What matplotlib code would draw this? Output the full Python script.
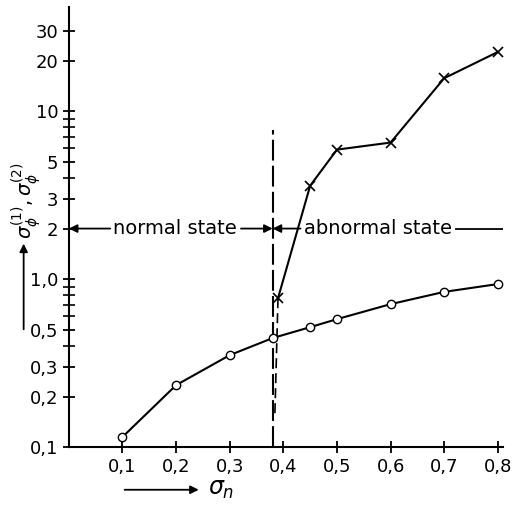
import matplotlib
matplotlib.use('Agg')
import matplotlib.pyplot as plt
from matplotlib.ticker import FixedLocator, NullFormatter

# sigma_phi^(2) (crosses) and sigma_phi^(1) (circles) vs sigma_n
x_cross = [0.39, 0.45, 0.5, 0.6, 0.7, 0.8]
y_cross = [0.77, 3.6, 5.9, 6.5, 15.7, 22.5]
x_circ = [0.1, 0.2, 0.3, 0.38, 0.45, 0.5, 0.6, 0.7, 0.8]
y_circ = [0.115, 0.234, 0.353, 0.446, 0.518, 0.578, 0.71, 0.84, 0.935]

x_ticks = [0.1, 0.2, 0.3, 0.4, 0.5, 0.6, 0.7, 0.8]
y_major = [0.1, 0.2, 0.3, 0.5, 1.0, 2, 3, 5, 10, 20, 30]
y_major_labels = ['0,1', '0,2', '0,3', '0,5', '1,0', '2', '3', '5', '10', '20', '30']
y_minor = [0.4, 0.6, 0.7, 0.8, 0.9, 4, 6, 7, 8, 9]
boundary = 0.38

plt.rcParams['font.family'] = ['DejaVu Sans']
fig = plt.figure(figsize=(5.14, 5.07), dpi=100)
ax = fig.add_axes([0.134, 0.118, 0.845, 0.868])

ax.plot(x_cross, y_cross, color='black', lw=1.5, marker='x', ms=7, mew=1.2)
ax.plot(x_circ, y_circ, color='black', lw=1.5, marker='o', ms=6,
        mfc='white', mec='black', mew=1.0, zorder=3)

# state boundary
ax.plot([boundary, boundary], [0.1, 7.7], color='black',
        lw=1.5, ls=(0, (10, 2.5)))
ax.plot([0.39, 0.384], [0.77, 0.15], color='black', lw=1.2, ls=(0, (6, 3)))

ax.set_yscale('log')
ax.set_xlim(0, 0.81)
ax.set_ylim(0.1, 41.6)
ax.yaxis.set_major_locator(FixedLocator(y_major))
ax.set_yticklabels(y_major_labels)
ax.yaxis.set_minor_locator(FixedLocator(y_minor))
ax.yaxis.set_minor_formatter(NullFormatter())
ax.set_xticks(x_ticks)
ax.set_xticklabels([str(t).replace('.', ',') for t in x_ticks])
ax.tick_params(which='major', direction='inout', length=9, width=1.3,
               labelsize=13, pad=3)
ax.tick_params(which='minor', direction='inout', length=8, width=1.2)
for s in ['top', 'right']:
    ax.spines[s].set_visible(False)
for s in ['left', 'bottom']:
    ax.spines[s].set_linewidth(1.5)

# state annotations
yy = 2.0
ax.text(0.198, yy, 'normal state', ha='center', va='center', fontsize=14)
ax.text(0.577, yy, 'abnormal state', ha='center', va='center', fontsize=14)
ap = dict(arrowstyle='-|>', color='black', lw=1.3, mutation_scale=12,
          shrinkA=0, shrinkB=0)
ax.annotate('', xy=(0, yy), xytext=(0.077, yy), arrowprops=ap)
ax.annotate('', xy=(boundary, yy), xytext=(0.321, yy), arrowprops=ap)
ax.annotate('', xy=(boundary, yy), xytext=(0.432, yy), arrowprops=ap)
ax.plot([0.722, 0.81], [yy, yy], color='black', lw=1.3)

# axis labels with arrows
fig.text(0.05, 0.605, r'$\sigma_{\phi}^{(1)}, \sigma_{\phi}^{(2)}$', rotation=90,
         ha='center', va='center', fontsize=14)
fig.add_artist(matplotlib.patches.FancyArrowPatch(
    (0.046, 0.345), (0.046, 0.525), transform=fig.transFigure,
    arrowstyle='-|>', color='black', lw=1.3, mutation_scale=12))
fig.text(0.405, 0.035, r'$\sigma_n$', ha='left', va='center', fontsize=17)
fig.add_artist(matplotlib.patches.FancyArrowPatch(
    (0.237, 0.034), (0.392, 0.034), transform=fig.transFigure,
    arrowstyle='-|>', color='black', lw=1.3, mutation_scale=12))

fig.savefig('out.png', dpi=100)
